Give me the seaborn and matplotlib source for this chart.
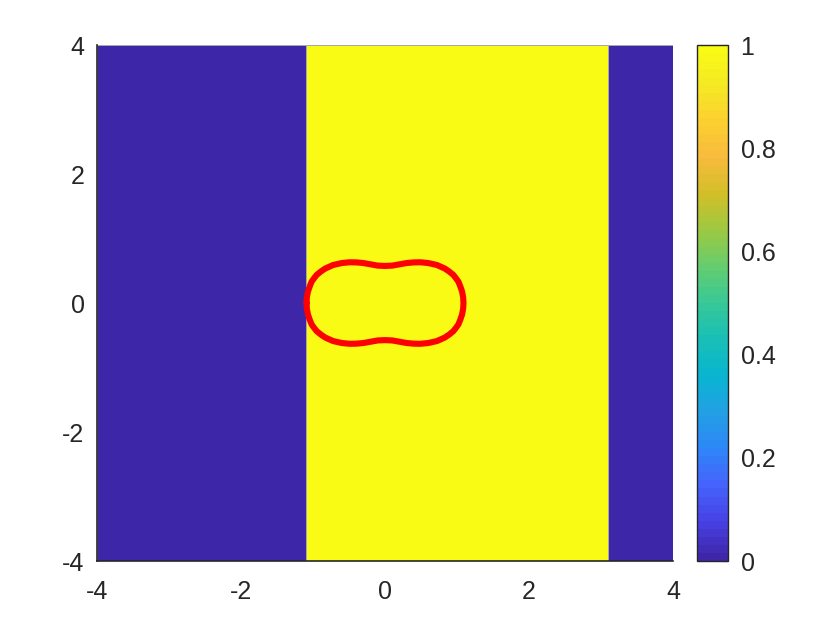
import numpy as np
import matplotlib
matplotlib.use("Agg")
import matplotlib.pyplot as plt
from matplotlib.colors import LinearSegmentedColormap
import seaborn as sns

# field: value per vertical strip between x edges
x_edges = [-4, -1.1, 3.1, 4]
y_edges = [-4, 4]
strip_values = [0, 1, 0]

# closed red curve (upper half left->right, lower half right->left)
curve_x = [-1.09, -1.085, -1.07, -1.045, -1.02, -0.985, -0.95, -0.89, -0.83, -0.72,
           -0.60, -0.49, -0.40, -0.30, -0.20, -0.10, 0.0, 0.10, 0.20, 0.30, 0.40,
           0.49, 0.60, 0.72, 0.83, 0.89, 0.95, 0.985, 1.02, 1.045, 1.07, 1.085, 1.09,
           1.085, 1.07, 1.045, 1.02, 0.985, 0.95, 0.89, 0.83, 0.72, 0.60, 0.49, 0.40,
           0.30, 0.20, 0.10, 0.0, -0.10, -0.20, -0.30, -0.40, -0.49, -0.60, -0.72,
           -0.83, -0.89, -0.95, -0.985, -1.02, -1.045, -1.07, -1.085, -1.09]
curve_y = [0.0, 0.09, 0.18, 0.26, 0.33, 0.385, 0.435, 0.49, 0.535, 0.59,
           0.62, 0.632, 0.63, 0.62, 0.60, 0.58, 0.575, 0.58, 0.60, 0.62, 0.63,
           0.632, 0.62, 0.59, 0.535, 0.49, 0.435, 0.385, 0.33, 0.26, 0.18, 0.09, 0.0,
           -0.09, -0.18, -0.26, -0.33, -0.385, -0.435, -0.49, -0.535, -0.59, -0.62, -0.632, -0.63,
           -0.62, -0.60, -0.58, -0.575, -0.58, -0.60, -0.62, -0.63, -0.632, -0.62, -0.59,
           -0.535, -0.49, -0.435, -0.385, -0.33, -0.26, -0.18, -0.09, 0.0]

xticks = [-4, -2, 0, 2, 4]
yticks = [-4, -2, 0, 2, 4]
cbar_ticks = [0, 0.2, 0.4, 0.6, 0.8, 1]

# MATLAB parula (approximate anchors)
parula_anchors = [
    (0.2422, 0.1504, 0.6603), (0.2783, 0.2559, 0.8991), (0.2699, 0.3892, 0.9906),
    (0.1786, 0.5289, 0.9682), (0.1380, 0.6276, 0.8973), (0.0297, 0.7082, 0.8163),
    (0.0964, 0.7500, 0.7120), (0.2161, 0.7843, 0.5923), (0.3909, 0.8029, 0.4354),
    (0.6174, 0.7876, 0.2612), (0.8203, 0.7498, 0.1535), (0.9728, 0.7298, 0.2394),
    (0.9892, 0.8136, 0.1885), (0.9597, 0.9135, 0.1423), (0.9769, 0.9839, 0.0805),
]
parula = LinearSegmentedColormap.from_list("parula", parula_anchors, N=64)

sns.set_style("white")
plt.rcParams["font.family"] = ["Liberation Sans", "DejaVu Sans"]

fig = plt.figure(figsize=(8.4, 6.3), dpi=100)
ax = fig.add_axes([0.1155, 0.1095, 0.6857, 0.819])
cax = fig.add_axes([0.8298, 0.1095, 0.0369, 0.819])

Z = np.array([strip_values])
mesh = ax.pcolormesh(x_edges, y_edges, Z, cmap=parula, vmin=0, vmax=1,
                     edgecolors="#a8a8a8", linewidth=0.6)

sns.lineplot(x=curve_x, y=curve_y, sort=False, color="red", linewidth=4.4,
             ax=ax, estimator=None)

ax.set_xlim(-4, 4)
ax.set_ylim(-4, 4)
ax.set_xticks(xticks)
ax.set_yticks(yticks)
ax.set_xticklabels([str(t) for t in xticks])
ax.set_yticklabels([str(t) for t in yticks])
ax.tick_params(length=0, labelsize=18, colors="#262626")
ax.tick_params(axis="x", pad=14)
ax.tick_params(axis="y", pad=9)
for side in ["top", "right"]:
    ax.spines[side].set_visible(False)
for side in ["left", "bottom"]:
    ax.spines[side].set_color("#262626")
    ax.spines[side].set_linewidth(1.2)

cb = fig.colorbar(mesh, cax=cax, ticks=cbar_ticks)
cb.ax.set_yticklabels(["0", "0.2", "0.4", "0.6", "0.8", "1"])
cb.ax.tick_params(direction="in", length=4, labelsize=18, colors="#262626", pad=9)
cb.outline.set_edgecolor("#262626")
cb.outline.set_linewidth(1.0)

fig.savefig("out.png", dpi=100, facecolor="white")
